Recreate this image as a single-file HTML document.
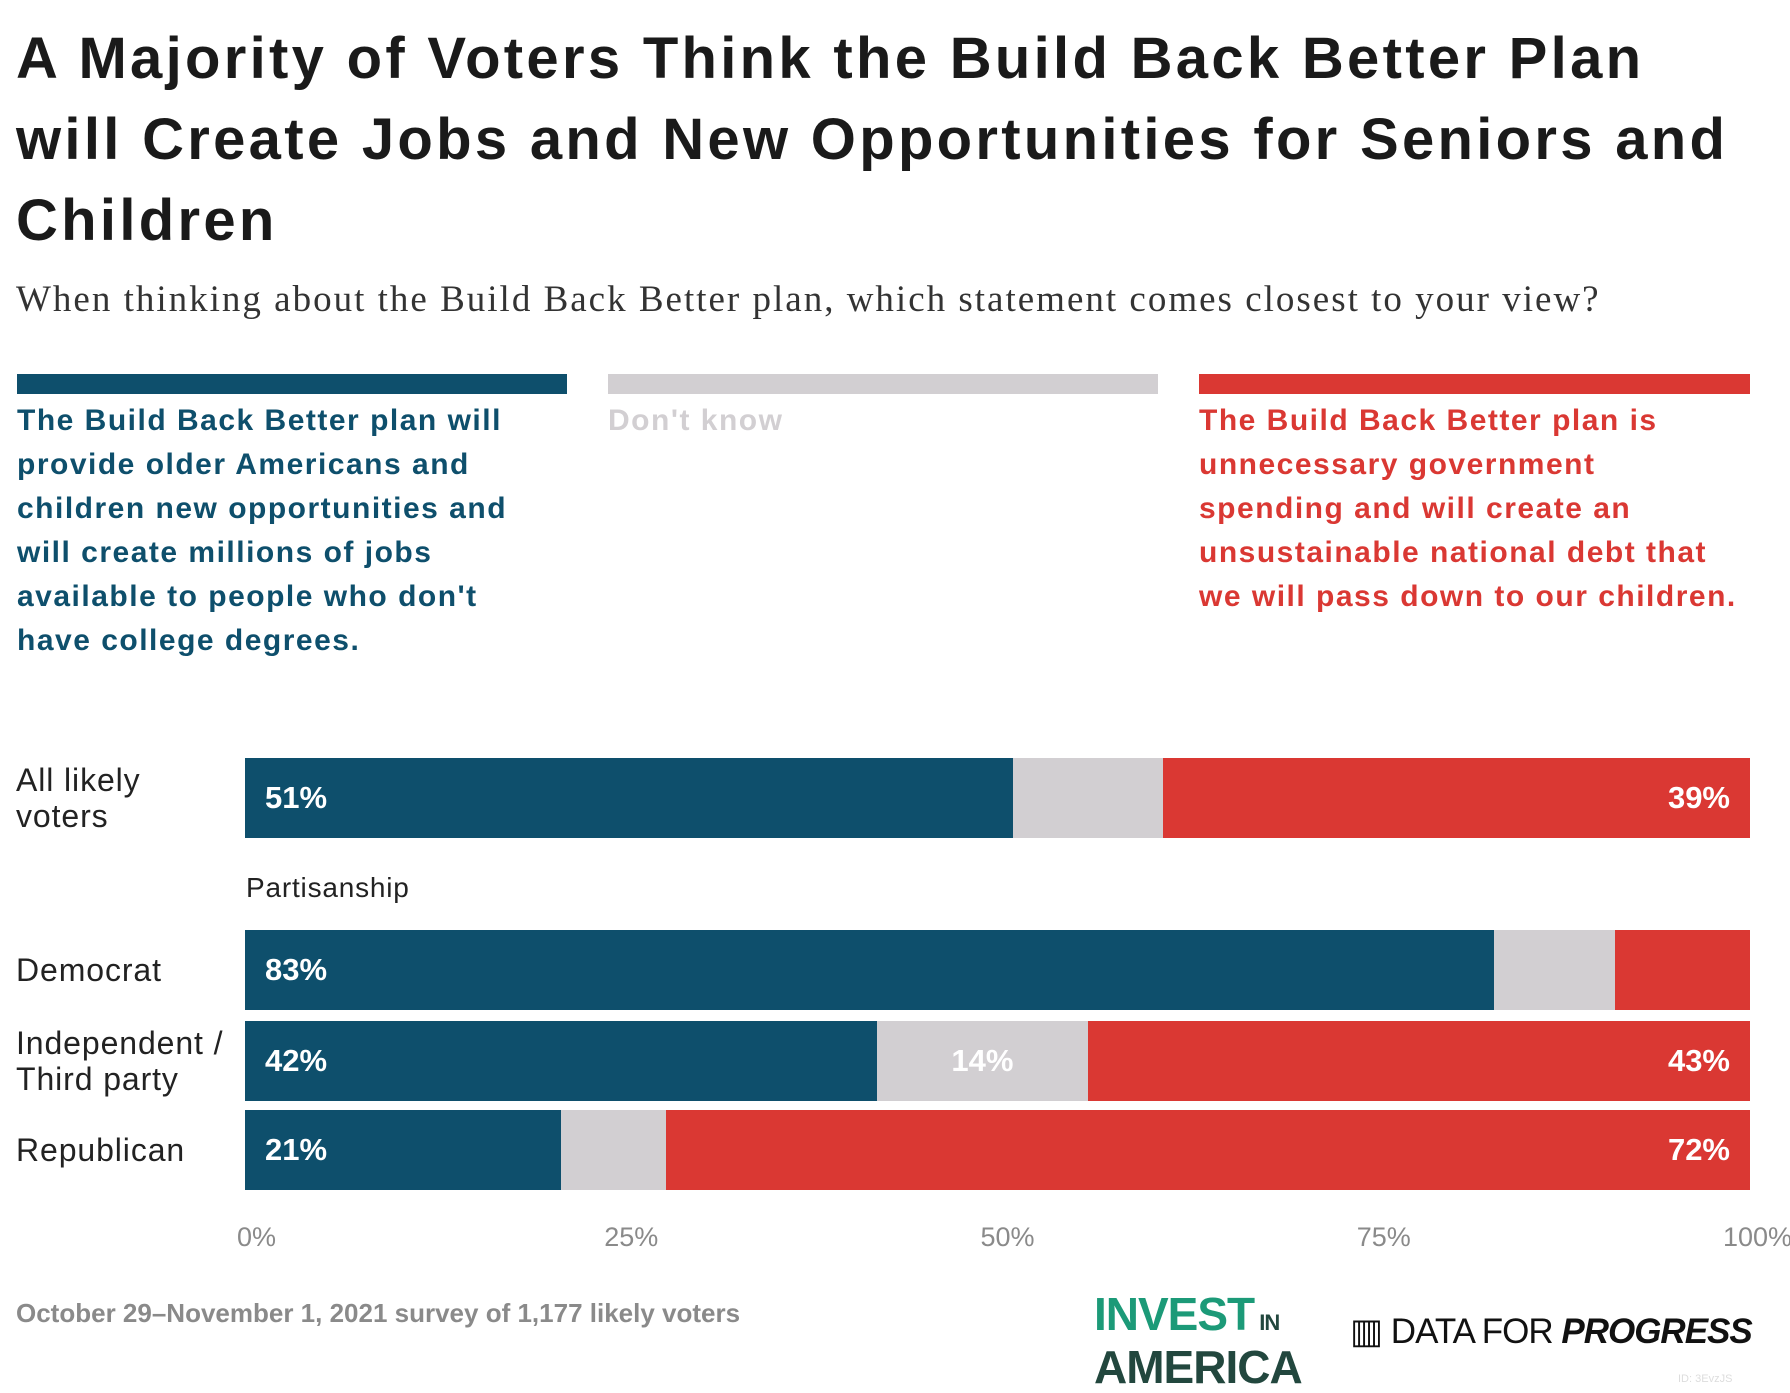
<!DOCTYPE html>
<html><head><meta charset="utf-8"><style>
body{margin:0;width:1790px;height:1390px;background:#fff;font-family:"Liberation Sans",sans-serif;position:relative;overflow:hidden}
.a{position:absolute;white-space:nowrap}
h1{position:absolute;left:16px;top:18px;margin:0;font-size:58px;line-height:81px;font-weight:bold;color:#1a1a1a;letter-spacing:3.3px}
.sub{left:16px;top:278px;font-family:"Liberation Serif",serif;font-size:37px;color:#333;letter-spacing:2px}
.leg{position:absolute;font-size:30px;line-height:44px;font-weight:bold;letter-spacing:1.5px}
</style></head><body>
<h1>A Majority of Voters Think the Build Back Better Plan<br>will Create Jobs and New Opportunities for Seniors and<br>Children</h1>
<div class="a sub">When thinking about the Build Back Better plan, which statement comes closest to your view?</div>
<div class="a" style="left:17px;top:374px;width:550px;height:20px;background:#0e4f6c"></div>
<div class="a" style="left:608px;top:374px;width:550px;height:20px;background:#d2cfd2"></div>
<div class="a" style="left:1199px;top:374px;width:551px;height:20px;background:#da3833"></div>
<div class="leg" style="left:17px;top:399px;color:#0e4f6c">The Build Back Better plan will<br>provide older Americans and<br>children new opportunities and<br>will create millions of jobs<br>available to people who don't<br>have college degrees.</div>
<div class="leg" style="left:608px;top:399px;color:#d2cfd2">Don't know</div>
<div class="leg" style="left:1199px;top:399px;color:#da3833">The Build Back Better plan is<br>unnecessary government<br>spending and will create an<br>unsustainable national debt that<br>we will pass down to our children.</div>
<div class="a" style="left:246px;top:872px;font-size:28px;color:#222;letter-spacing:0.8px">Partisanship</div>
<div id="chart"></div>
<div class="a" style="left:16px;top:1298px;font-size:26px;font-weight:bold;color:#8a8a8a">October 29–November 1, 2021 survey of 1,177 likely voters</div>
<div class="a" style="left:1094px;top:1292px;font-weight:bold;font-size:46px;line-height:44px;color:#1c9a78;letter-spacing:-1px">INVEST<span style="font-size:22px;color:#22473e"> IN</span><br><span style="color:#22473e">AMERICA</span></div>
<div class="a" style="left:1350px;top:1312px;font-size:35px;color:#111;letter-spacing:-1px">▥ DATA FOR <b><i>PROGRESS</i></b></div>
<div class="a" style="left:1678px;top:1373px;font-size:11px;color:#ddd">ID: 3EvzJS</div>
<script>
const categories=["All likely\nvoters","Democrat","Independent /\nThird party","Republican"];
const provideVals=[51,83,42,21];
const dontKnowVals=[10,8,14,7];
const unnecessaryVals=[39,9,43,72];
const ticks=[0,25,50,75,100];
const tickLabels=["0%","25%","50%","75%","100%"];
const rowTops=[758,930,1021,1110];
const X0=245,X1=1750,BH=80;
const x=v=>X0+(X1-X0)*v/100;
const c=document.getElementById('chart');
function box(l,t,w,h,bg,name){const d=document.createElement('div');d.className='a';d.style.cssText=`left:${l}px;top:${t}px;width:${w}px;height:${h}px;background:${bg}`;


c.appendChild(d);return d;}
function txt(l,t,s,css,name){const d=document.createElement('div');d.className='a';d.style.cssText=`left:${l}px;top:${t}px;`+css;d.innerHTML=s;


c.appendChild(d);return d;}
categories.forEach((cat,i)=>{
 const t=rowTops[i],p=provideVals[i],d=dontKnowVals[i],u=unnecessaryVals[i];
 box(x(0),t,x(p)-x(0),BH,'#0e4f6c','bar-provide-'+i);
 box(x(p),t,x(p+d)-x(p),BH,'#d2cfd2','bar-dont-know-'+i);
 box(x(p+d),t,x(100)-x(p+d),BH,'#da3833','bar-unnecessary-'+i);
 const lines=cat.split('\n');
 txt(16,t+BH/2-lines.length*18,lines.join('<br>'),'font-size:32px;line-height:36px;color:#222;letter-spacing:0.9px','category-label-'+i);
 const lab='font-size:31px;font-weight:bold;color:#fff;line-height:'+BH+'px;';
 if(p>=10)txt(x(0)+20,t,p+'%',lab,'value-provide-'+i);
 if(d>=12)txt((x(p)+x(p+d))/2-35,t,d+'%',lab+'width:70px;text-align:center','value-dont-know-'+i);
 if(u>=10)txt(x(100)-120,t,u+'%',lab+'width:100px;text-align:right','value-unnecessary-'+i);
});
ticks.forEach((tk,i)=>{
 const xx=x(tk);let l=xx-40,al='center';
 if(i===0){l=xx-8;al='left';}
 if(i===ticks.length-1){l=xx-70;al='right';}
 txt(l,1222,tickLabels[i],`width:${i===ticks.length-1?112:100}px;text-align:${al};font-size:27px;color:#8a8a8a`,'x-tick-'+tk);
});
</script>
</body></html>
